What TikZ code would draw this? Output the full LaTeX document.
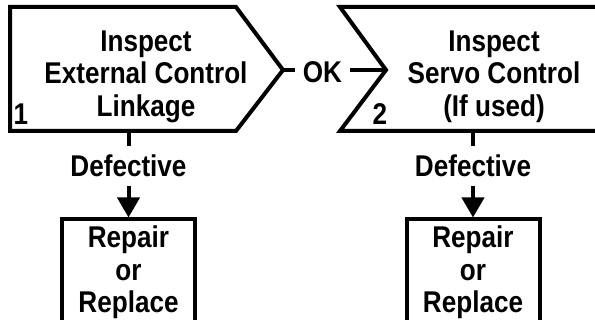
\documentclass[tikz,border=0pt]{standalone}
\usepackage{fontspec}
\newfontfamily\chartfont[FakeStretch=0.87]{Liberation Sans}
\usepackage{tikz}
\usetikzlibrary{arrows.meta}

\begin{document}
\begin{tikzpicture}[x=1pt,y=-1pt,line width=4pt,
	every node/.style={font=\chartfont\bfseries\fontsize{30}{32.5}\selectfont}]
	\useasboundingbox (0,0) rectangle (595,320);
	\clip (0,0) rectangle (595,320);

	\coordinate (tip1) at (283,70);
	\coordinate (notch2) at (386,70);
	\coordinate (out1) at (128.5,131);
	\coordinate (out2) at (473,131);
	\draw (10,7) -- (236,7) -- (tip1) -- (236,131) -- (10,131) -- cycle;
	\draw (605,7) -- (340,7) -- (notch2) -- (340,131) -- (605,131);

	\begin{scope}[every node/.append style={inner sep=0pt}]
	\node[align=center,anchor=north] (step1) at (146,28.5) {Inspect\\External Control\\Linkage};
	\node[align=center,anchor=north] (step2) at (494,28.5) {Inspect\\Servo Control\\(If used)};
	\node[anchor=base] (num1) at (21,125) {1};
	\node[anchor=base] (num2) at (380,125) {2};
	\end{scope}

	\begin{scope}[>={Triangle[length=20pt,width=22pt]}]
	\node[anchor=base,inner xsep=6pt] (ok) at (322.5,83) {OK};
	\node[anchor=base,inner ysep=7pt] (def1) at (128.5,177) {Defective};
	\node[anchor=base,inner ysep=7pt] (def2) at (473,177) {Defective};
	\node[draw,anchor=north,minimum width=133pt,inner ysep=6.5pt,align=center] (fix1) at (128.5,217.5) {Repair\\or\\Replace};
	\node[draw,anchor=north,minimum width=133pt,inner ysep=6.5pt,align=center] (fix2) at (473,217.5) {Repair\\or\\Replace};
	\draw (tip1) -- (tip1 -| ok.west);
	\draw (ok.east |- notch2) -- (notch2);
	\draw (out1) -- (def1);
	\draw (out2) -- (def2);
	\draw [->] (def1) -- (fix1);
	\draw [->] (def2) -- (fix2);
	\end{scope}
\end{tikzpicture}
\end{document}
